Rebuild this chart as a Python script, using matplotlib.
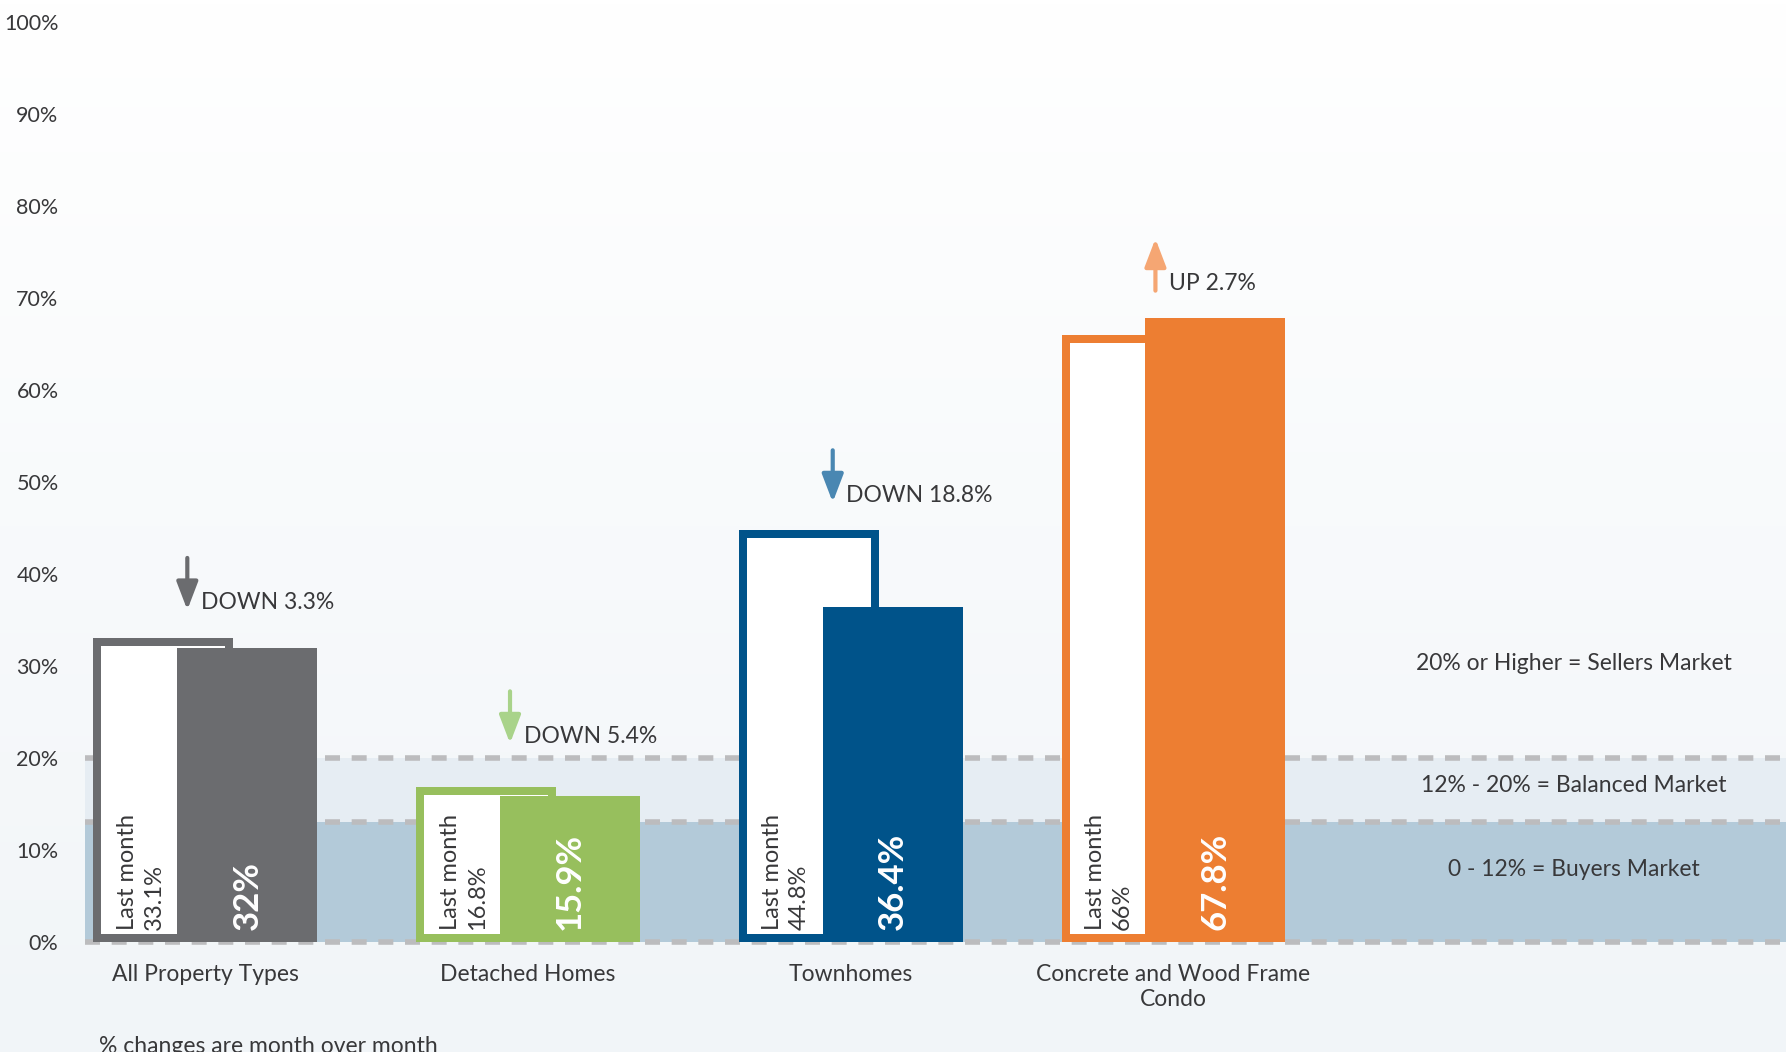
import numpy as np
import matplotlib.pyplot as plt
from matplotlib.colors import LinearSegmentedColormap

plt.rcParams['font.family'] = ['Lato', 'DejaVu Sans']

# data
categories = ["All Property Types", "Detached Homes", "Townhomes", "Concrete and Wood Frame\nCondo"]
last_month = [33.1, 16.8, 44.8, 66.0]
this_month = [32.0, 15.9, 36.4, 67.8]
change_text = ["DOWN 3.3%", "DOWN 5.4%", "DOWN 18.8%", "UP 2.7%"]
going_up = [False, False, False, True]
bar_colors = ["#6b6c6f", "#97bf5d", "#00538a", "#ed7e32"]
arrow_colors = ["#6b6c6f", "#a9d38a", "#4a87b2", "#f5a673"]

# market bands (line drawn where the picture shows it)
buyers_top = 13
balanced_top = 20
band_labels = ["20% or Higher = Sellers Market", "12% - 20% = Balanced Market", "0 - 12% = Buyers Market"]
band_label_y = [30.3, 17.0, 7.9]

txt_color = "#38383a"
fs = 16.5

fig = plt.figure(figsize=(17.86, 10.52), dpi=100)

# soft vertical gradient behind everything
bg = fig.add_axes([0, 0, 1, 1], zorder=-10)
grad_cmap = LinearSegmentedColormap.from_list("bg", ["#f1f5f8", "#ffffff"])
bg.imshow(np.linspace(0, 1, 256).reshape(-1, 1), aspect="auto", cmap=grad_cmap,
          extent=[0, 1, 0, 1], origin="lower")
bg.axis("off")

ax = fig.add_axes([0.0476, 0.0914, 0.9524, 0.9008])
ax.set_facecolor("none")
ax.set_xlim(-0.373, 4.898)
ax.set_ylim(-1.5, 101.5)

# bands and dashed boundaries
ax.axhspan(0, buyers_top, color="#b3cad9", zorder=0, lw=0)
ax.axhspan(buyers_top, balanced_top, color="#e6edf3", zorder=0, lw=0)
for yv in [0, buyers_top, balanced_top]:
    ax.axhline(yv, color="#bcbcbe", lw=4, dashes=(2.7, 2.1), zorder=1)

x = np.arange(len(categories))
w = 0.434
shift = 0.13
inset_x = 0.025
inset_y = 0.87

for i in range(len(categories)):
    c = bar_colors[i]
    xl = x[i] - shift
    xc = x[i] + shift
    # last month: outlined bar (colour bar with a white inside)
    ax.bar(xl, last_month[i], width=w, color=c, zorder=3)
    ax.bar(xl, last_month[i] - 2 * inset_y, bottom=inset_y, width=w - 2 * inset_x,
           color="white", zorder=3)
    # this month: solid bar
    ax.bar(xc, this_month[i], width=w, color=c, zorder=4)

    ax.text(xl - 0.07, 1.3, "Last month\n%g%%" % last_month[i], rotation=90,
            ha="center", va="bottom", multialignment="left", fontsize=17,
            color=txt_color, zorder=5, linespacing=1.35)
    ax.text(xc, 1.3, "%g%%" % this_month[i], rotation=90, ha="center", va="bottom",
            fontsize=25, fontweight="bold", color="white", zorder=5)

    # change arrow + label, kept clear of the bar and the 20% line
    top = max(last_month[i], this_month[i])
    ax_x = xc - w / 2 + 0.031
    low = max(top + 3.0, balanced_top + 1.6)
    high = low + 5.65
    if going_up[i]:
        start, end = low, high
    else:
        start, end = high, low
    ax.annotate("", xy=(ax_x, end), xytext=(ax_x, start),
                arrowprops=dict(arrowstyle="-|>,head_length=1.7,head_width=0.65",
                                mutation_scale=10, color=arrow_colors[i], lw=3,
                                shrinkA=0, shrinkB=0), zorder=5)
    ax.text(ax_x + 0.042, low + 0.76, change_text[i], ha="left", va="center",
            fontsize=fs, color=txt_color)

for lab, yv in zip(band_labels, band_label_y):
    ax.text(4.24, yv, lab, ha="center", va="center", fontsize=fs, color=txt_color)

ax.set_xticks(x, categories)
ax.set_yticks(np.arange(0, 101, 10), ["%d%%" % v for v in range(0, 101, 10)])
ax.tick_params(axis="x", length=0, pad=6, labelsize=fs, labelcolor=txt_color)
ax.tick_params(axis="y", length=0, pad=19, labelsize=15.5, labelcolor=txt_color)
for s in ax.spines.values():
    s.set_visible(False)

fig.text(99 / 1786, 1 - 1036 / 1052, "% changes are month over month", ha="left",
         va="top", fontsize=fs, color=txt_color)

fig.savefig("out.png", dpi=100)
